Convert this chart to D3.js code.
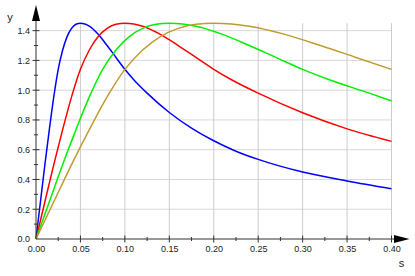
<!DOCTYPE html>
<html lang="en">
    <head>
        <meta charset="utf-8">
        <title>Curves</title>
        <script type="text/javascript" src="https://cdn.jsdelivr.net/npm/d3@7"></script>
        <style type="text/css">
        body { margin: 0; background: #fff; }
        text { font-family: "Liberation Sans", Arial, sans-serif; fill: #222; }
        </style>
    </head>
    <body>
        <script type="text/javascript">
        // values, [s, y]
        var blue = [[0,0],[0.005,0.25],[0.01,0.50],[0.015,0.735],[0.02,0.955],[0.025,1.14],[0.03,1.27],[0.035,1.36],[0.04,1.415],[0.045,1.443],[0.05,1.45],[0.055,1.445],[0.06,1.43],[0.07,1.375],[0.08,1.30],[0.09,1.22],[0.10,1.14],[0.11,1.07],[0.125,0.98],[0.15,0.85],[0.175,0.745],[0.20,0.66],[0.225,0.59],[0.25,0.535],[0.30,0.45],[0.35,0.39],[0.40,0.338]];
        var red = [[0,0],[0.01,0.25],[0.02,0.50],[0.03,0.735],[0.04,0.955],[0.05,1.14],[0.06,1.27],[0.07,1.36],[0.08,1.415],[0.09,1.443],[0.10,1.45],[0.11,1.445],[0.12,1.43],[0.14,1.375],[0.16,1.30],[0.18,1.22],[0.20,1.14],[0.22,1.07],[0.25,0.98],[0.30,0.848],[0.35,0.74],[0.40,0.656]];
        var green = [[0,0],[0.015,0.25],[0.03,0.50],[0.045,0.735],[0.06,0.955],[0.075,1.14],[0.09,1.27],[0.105,1.36],[0.12,1.415],[0.135,1.443],[0.15,1.45],[0.165,1.445],[0.18,1.43],[0.21,1.375],[0.24,1.30],[0.27,1.22],[0.30,1.14],[0.33,1.07],[0.375,0.98],[0.40,0.928]];
        var gold = [[0,0],[0.02,0.25],[0.04,0.50],[0.06,0.735],[0.08,0.955],[0.10,1.14],[0.12,1.27],[0.14,1.36],[0.16,1.415],[0.18,1.443],[0.20,1.45],[0.22,1.445],[0.24,1.43],[0.28,1.375],[0.32,1.30],[0.36,1.22],[0.40,1.14]];

        var series = [blue, red, green, gold];
        var colors = ["#0000ff", "#ff0000", "#00f000", "#bf9b30"];

        var xTicks = [0, 0.05, 0.10, 0.15, 0.20, 0.25, 0.30, 0.35, 0.40];
        var xMinor = [0.025, 0.075, 0.125, 0.175, 0.225, 0.275, 0.325, 0.375];
        var yTicks = [0, 0.2, 0.4, 0.6, 0.8, 1.0, 1.2, 1.4];
        var yMinor = [0.1, 0.3, 0.5, 0.7, 0.9, 1.1, 1.3];

        var itemWidth = 415;
        var itemHeight = 276;

        var x = d3.scaleLinear().domain([0, 0.4]).range([36, 391.5]);
        var y = d3.scaleLinear().domain([0, 1.45]).range([239, 23.2]);

        var svg = d3.select("body")
        .append("svg")
        .attr("width", itemWidth)
        .attr("height", itemHeight);

        // grid
        svg.selectAll("line.hgrid")
        .data(yTicks.slice(1))
        .enter()
        .append("line")
        .attr("x1", x(0)).attr("x2", x(0.4))
        .attr("y1", function(d) { return y(d); })
        .attr("y2", function(d) { return y(d); })
        .attr("stroke", "#d8d8d8")
        .attr("stroke-width", 1);

        svg.selectAll("line.vgrid")
        .data(xTicks.slice(1))
        .enter()
        .append("line")
        .attr("y1", y(1.45)).attr("y2", y(0))
        .attr("x1", function(d) { return x(d); })
        .attr("x2", function(d) { return x(d); })
        .attr("stroke", "#cccccc")
        .attr("stroke-width", 1);

        // curves
        var line = d3.line()
        .x(function(d) { return x(d[0]); })
        .y(function(d) { return y(d[1]); })
        .curve(d3.curveMonotoneX);

        svg.selectAll("path.curve")
        .data(series)
        .enter()
        .append("path")
        .attr("d", line)
        .attr("fill", "none")
        .attr("stroke", function(d, i) { return colors[i]; })
        .attr("stroke-width", 1.5);

        // axes
        var axisColor = "#333";
        var xAxis = d3.axisBottom(x).tickValues(xTicks).tickFormat(d3.format(".2f")).tickSize(0).tickPadding(7);
        var gx = svg.append("g").attr("transform", "translate(0," + y(0) + ")").call(xAxis);
        gx.select(".domain").remove();
        gx.selectAll("text").attr("font-size", "9px").attr("fill", "#222").attr("font-family", "Liberation Sans, Arial, sans-serif");

        var yAxis = d3.axisLeft(y).tickValues(yTicks).tickFormat(d3.format(".1f")).tickSize(0).tickPadding(6);
        var gy = svg.append("g").attr("transform", "translate(" + x(0) + ",0)").call(yAxis);
        gy.select(".domain").remove();
        gy.selectAll("text").attr("font-size", "9px").attr("fill", "#222").attr("font-family", "Liberation Sans, Arial, sans-serif");

        svg.append("line")
        .attr("x1", x(0)).attr("x2", 396)
        .attr("y1", y(0)).attr("y2", y(0))
        .attr("stroke", axisColor).attr("stroke-width", 1);
        svg.append("line")
        .attr("x1", x(0)).attr("x2", x(0))
        .attr("y1", y(0)).attr("y2", 19)
        .attr("stroke", axisColor).attr("stroke-width", 1);

        // tick marks
        svg.selectAll("line.xt")
        .data(xTicks.slice(1).concat(xMinor))
        .enter()
        .append("line")
        .attr("x1", function(d) { return x(d); })
        .attr("x2", function(d) { return x(d); })
        .attr("y1", function(d) { return y(0) - (xMinor.indexOf(d) >= 0 ? 2 : 3.5); })
        .attr("y2", function(d) { return y(0) + (xMinor.indexOf(d) >= 0 ? 2 : 3.5); })
        .attr("stroke", axisColor);

        svg.selectAll("line.yt")
        .data(yTicks.slice(1).concat(yMinor))
        .enter()
        .append("line")
        .attr("y1", function(d) { return y(d); })
        .attr("y2", function(d) { return y(d); })
        .attr("x1", function(d) { return x(0) - (yMinor.indexOf(d) >= 0 ? 2 : 3.5); })
        .attr("x2", function(d) { return x(0) + (yMinor.indexOf(d) >= 0 ? 2 : 3.5); })
        .attr("stroke", axisColor);

        // arrows
        svg.append("path")
        .attr("d", "M394," + (y(0) - 4) + "L409.5," + y(0) + "L394," + (y(0) + 4) + "Z")
        .attr("fill", "#000");
        svg.append("path")
        .attr("d", "M" + (x(0) - 4) + ",21L" + x(0) + ",5L" + (x(0) + 4) + ",21Z")
        .attr("fill", "#000");

        svg.append("text")
        .text("y")
        .attr("x", 10).attr("y", 21)
        .attr("text-anchor", "middle")
        .attr("font-size", "11px");
        svg.append("text")
        .text("s")
        .attr("x", 401.5).attr("y", 267)
        .attr("text-anchor", "middle")
        .attr("font-size", "11px");
        </script>
    </body>
</html>
